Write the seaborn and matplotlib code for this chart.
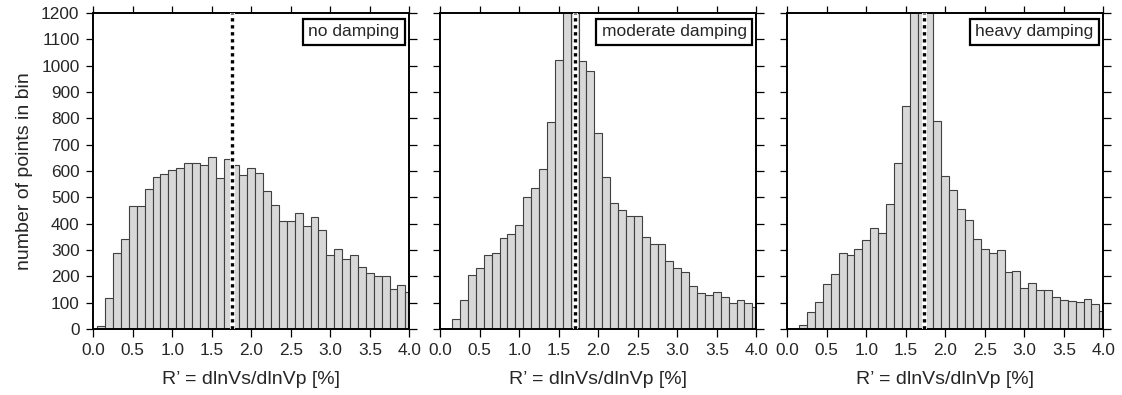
import numpy as np
import pandas as pd
import matplotlib
matplotlib.use("Agg")
import matplotlib.pyplot as plt
import seaborn as sns

# Histogram bins of R' (centres every 0.1 %)
r_centers = np.round(np.arange(0, 41) * 0.1, 1)

counts_none = [0, 12, 116, 290, 343, 468, 467, 530, 578, 587,
               603, 611, 630, 629, 623, 652, 573, 647, 622, 584,
               610, 594, 524, 471, 411, 411, 442, 391, 425, 377,
               282, 303, 265, 280, 234, 214, 203, 203, 152, 168,
               142]
counts_moderate = [0, 0, 39, 110, 204, 233, 280, 289, 344, 362,
                   394, 500, 535, 608, 785, 1021, 1400, 1300, 1016, 978,
                   746, 576, 478, 453, 428, 428, 348, 322, 322, 258,
                   230, 216, 162, 135, 130, 142, 120, 99, 111, 97,
                   82]
counts_heavy = [0, 0, 16, 66, 104, 171, 208, 287, 280, 305,
                338, 384, 363, 473, 630, 848, 1500, 1600, 1300, 789,
                582, 528, 454, 414, 340, 303, 290, 300, 215, 219,
                154, 175, 148, 148, 120, 110, 105, 101, 113, 96,
                67]

panel_titles = ["no damping", "moderate damping", "heavy damping"]
mean_ratio = [1.75, 1.705, 1.727]

x_ticks = [0.0, 0.5, 1.0, 1.5, 2.0, 2.5, 3.0, 3.5, 4.0]
y_ticks = list(range(0, 1300, 100))

sns.set_style("ticks")
plt.rcParams["font.family"] = ["Liberation Sans", "DejaVu Sans"]

fig = plt.figure(figsize=(11.22, 3.95), dpi=100)
W, H = 1122.0, 395.0
lefts = [93.3, 440.3, 787.3]
ax_w, ax_h = 316.0, 316.0
ax_top = 13.0

all_counts = [counts_none, counts_moderate, counts_heavy]

for i, (counts, title, mr) in enumerate(zip(all_counts, panel_titles, mean_ratio)):
    ax = fig.add_axes([lefts[i] / W, (H - ax_top - ax_h) / H, ax_w / W, ax_h / H])
    df = pd.DataFrame({"ratio": r_centers, "count": counts})
    sns.histplot(data=df, x="ratio", weights="count", binwidth=0.1,
                 binrange=(-0.05, 4.05), ax=ax,
                 color="#d8d8d8", edgecolor="#404040", linewidth=0.8,
                 alpha=1.0)
    # mean R' marker
    ax.axvline(mr, color="white", lw=3.6, zorder=3)
    ax.axvline(mr, color="black", lw=2.4, dashes=(1.0, 1.1),
               dash_capstyle="butt", zorder=4)

    ax.set_xlim(0, 4)
    ax.set_ylim(0, 1200)
    ax.set_xticks(x_ticks)
    ax.set_xticklabels([f"{v:.1f}" for v in x_ticks])
    ax.set_yticks(y_ticks)
    ax.tick_params(direction="out", top=True, right=True, length=5.4,
                   width=0.9, labelsize=12.4, color="black")
    ax.tick_params(axis="x", pad=4.8)
    ax.tick_params(axis="y", pad=4.6)
    for sp in ax.spines.values():
        sp.set_visible(True)
        sp.set_linewidth(1.4)
        sp.set_color("black")
    ax.set_xlabel("R\u2019 = dlnVs/dlnVp [%]", fontsize=14, labelpad=9)
    if i == 0:
        ax.set_ylabel("number of points in bin", fontsize=14, labelpad=6)
    else:
        ax.set_ylabel("")
        ax.tick_params(labelleft=False)

    ax.text(0.969, 0.964, title, transform=ax.transAxes, ha="right",
            va="top", fontsize=12.5, zorder=6,
            bbox=dict(boxstyle="square,pad=0.3", fc="white", ec="black",
                      lw=1.6))

fig.savefig("out.png", dpi=100)
